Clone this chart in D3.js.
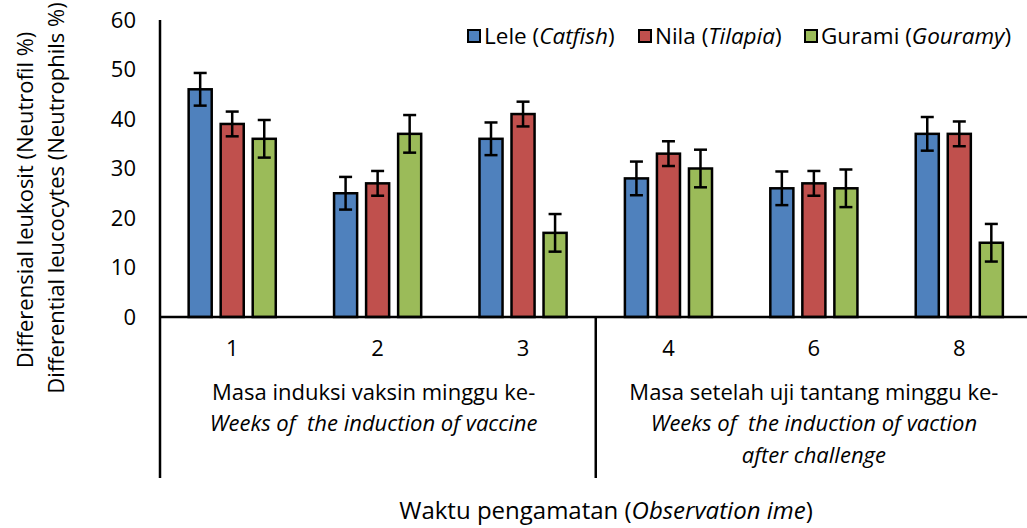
<!DOCTYPE html>
<html>
<head>
<meta charset="utf-8">
<script src="https://d3js.org/d3.v7.min.js"></script>
<style>
  body { margin: 0; background: #fff; }
  svg text { font-family: "Liberation Sans Narrow", "Open Sans", sans-serif; fill: #000; }
</style>
</head>
<body>
<svg width="1027" height="528"></svg>
<script>
// data
var weeks = ["1", "2", "3", "4", "6", "8"];
var seriesKeys = ["Lele", "Nila", "Gurami"];
var seriesLatin = ["Catfish", "Tilapia", "Gouramy"];
var lele = [46, 25, 36, 28, 26, 37];
var nila = [39, 27, 41, 33, 27, 37];
var gurami = [36, 37, 17, 30, 26, 15];
var leleErr = [3.3, 3.3, 3.3, 3.4, 3.4, 3.4];
var nilaErr = [2.5, 2.5, 2.5, 2.5, 2.5, 2.5];
var guramiErr = [3.8, 3.8, 3.8, 3.8, 3.8, 3.8];
var yTicks = [0, 10, 20, 30, 40, 50, 60];

var colors = ["#4F81BD", "#C0504D", "#9BBB59"];

var svg = d3.select("svg");

var x0 = d3.scaleBand().domain(weeks).range([159.5, 1032]);
var x1 = d3.scaleBand().domain(seriesKeys).range([0, x0.bandwidth()])
    .paddingInner(0.28).paddingOuter(0.91);
var y = d3.scaleLinear().domain([0, 60]).range([317, 20]);
var color = d3.scaleOrdinal().domain(seriesKeys).range(colors);

var vals = [lele, nila, gurami];
var errs = [leleErr, nilaErr, guramiErr];
var rows = weeks.map(function(w, i) {
    return seriesKeys.map(function(k, j) {
        return { week: w, key: k, value: vals[j][i], err: errs[j][i] };
    });
});

// y axis labels
svg.append("g")
    .attr("transform", "translate(160,0)")
    .call(d3.axisLeft(y).tickValues(yTicks).tickSize(0).tickPadding(24))
    .call(function(g) { g.select(".domain").remove(); })
    .selectAll("text")
    .style("font-size", "22px")
    .style("font-family", "'Liberation Sans Narrow', 'Open Sans', sans-serif");

// bars
var groups = svg.append("g").selectAll("g")
    .data(rows)
    .join("g")
    .attr("transform", function(d) { return "translate(" + x0(d[0].week) + ",0)"; });

groups.selectAll("rect")
    .data(function(d) { return d; })
    .join("rect")
    .attr("x", function(d) { return x1(d.key); })
    .attr("y", function(d) { return y(d.value); })
    .attr("width", x1.bandwidth())
    .attr("height", function(d) { return y(0) - y(d.value); })
    .attr("fill", function(d) { return color(d.key); })
    .attr("stroke", "#000")
    .attr("stroke-width", 2.5);

// error bars
var eb = groups.selectAll("g.err")
    .data(function(d) { return d; })
    .join("g")
    .attr("class", "err")
    .attr("stroke", "#000")
    .attr("stroke-width", 2.5);
eb.append("line")
    .attr("x1", function(d) { return x1(d.key) + x1.bandwidth() / 2; })
    .attr("x2", function(d) { return x1(d.key) + x1.bandwidth() / 2; })
    .attr("y1", function(d) { return y(d.value + d.err); })
    .attr("y2", function(d) { return y(d.value - d.err); });
[1, -1].forEach(function(s) {
    eb.append("line")
        .attr("x1", function(d) { return x1(d.key) + x1.bandwidth() / 2 - 6.5; })
        .attr("x2", function(d) { return x1(d.key) + x1.bandwidth() / 2 + 6.5; })
        .attr("y1", function(d) { return y(d.value + s * d.err); })
        .attr("y2", function(d) { return y(d.value + s * d.err); });
});

// axis lines
svg.append("line").attr("x1", 160).attr("x2", 160).attr("y1", 20).attr("y2", 478)
    .attr("stroke", "#000").attr("stroke-width", 2.5);
svg.append("line").attr("x1", 160).attr("x2", 1027).attr("y1", y(0)).attr("y2", y(0))
    .attr("stroke", "#000").attr("stroke-width", 2.5);
svg.append("line").attr("x1", x0("4")).attr("x2", x0("4")).attr("y1", y(0)).attr("y2", 478)
    .attr("stroke", "#000").attr("stroke-width", 2.5);

// category labels
svg.append("g").selectAll("text")
    .data(weeks)
    .join("text")
    .attr("x", function(d) { return x0(d) + x0.bandwidth() / 2; })
    .attr("y", 356)
    .attr("text-anchor", "middle")
    .style("font-size", "22px")
    .text(function(d) { return d; });

// group labels
var c1 = (x0("1") + x0("3") + x0.bandwidth()) / 2;
var c2 = (x0("4") + x0("8") + x0.bandwidth()) / 2;
var glab = [
    { x: c1 - 4, y: 400, t: "Masa induksi vaksin minggu ke-", it: false },
    { x: c1 - 4, y: 431, t: "Weeks of  the induction of vaccine", it: true },
    { x: c2, y: 400, t: "Masa setelah uji tantang minggu ke-", it: false },
    { x: c2, y: 431, t: "Weeks of  the induction of vaction", it: true },
    { x: c2, y: 463, t: "after challenge", it: true }
];
svg.append("g").selectAll("text")
    .data(glab)
    .join("text")
    .attr("x", function(d) { return d.x; })
    .attr("y", function(d) { return d.y; })
    .attr("text-anchor", "middle")
    .style("font-size", "22px")
    .style("font-style", function(d) { return d.it ? "italic" : "normal"; })
    .style("white-space", "pre")
    .text(function(d) { return d.t; });

// x title
var xt = svg.append("text")
    .attr("x", 606).attr("y", 519)
    .attr("text-anchor", "middle")
    .style("font-size", "24px");
xt.append("tspan").text("Waktu pengamatan (");
xt.append("tspan").style("font-style", "italic").text("Observation ime");
xt.append("tspan").text(")");

// y title
svg.append("text")
    .attr("transform", "translate(33,200) rotate(-90)")
    .attr("text-anchor", "middle")
    .style("font-size", "22px")
    .text("Differensial leukosit (Neutrofil %)");
svg.append("text")
    .attr("transform", "translate(64,198) rotate(-90)")
    .attr("text-anchor", "middle")
    .style("font-size", "22px")
    .text("Differential leucocytes (Neutrophils %)");

// legend
var legX = [468, 639, 805];
var leg = svg.append("g").selectAll("g")
    .data(seriesKeys)
    .join("g")
    .attr("transform", function(d, i) { return "translate(" + legX[i] + ",30)"; });
leg.append("rect")
    .attr("width", 12).attr("height", 12)
    .attr("fill", function(d) { return color(d); })
    .attr("stroke", "#000").attr("stroke-width", 2);
var lt = leg.append("text")
    .attr("x", 16).attr("y", 14)
    .style("font-size", "22.5px");
lt.append("tspan").text(function(d) { return d + " ("; });
lt.append("tspan").style("font-style", "italic").text(function(d, i) { return seriesLatin[i]; });
lt.append("tspan").text(")");
</script>
</body>
</html>
